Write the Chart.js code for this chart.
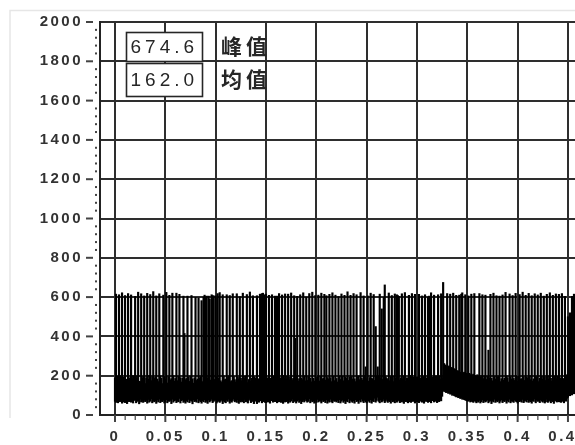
<!DOCTYPE html>
<html>
<head>
<meta charset="utf-8">
<script src="https://cdn.jsdelivr.net/npm/chart.js@4/dist/chart.umd.min.js"></script>
<style>
  html, body { margin: 0; padding: 0; background: #fff; }
  canvas { display: block; }
</style>
</head>
<body>
<canvas id="c" width="575" height="445"></canvas>
<script>
// Peak-detect trace: for every 1 ms sample, the highest and lowest reading
const sampleInterval = 0.001;

const peakTrace = [
  188,615,176,198,612,185,200,622,170,192,
  608,182,176,618,190,165,611,185,200,196,
  604,188,199,625,172,170,617,187,196,606,
  160,190,619,182,201,613,175,194,628,186,
  192,606,183,170,617,199,188,160,610,196,
  181,624,163,194,609,178,185,620,200,172,
  186,620,175,196,614,190,168,188,605,415,
  180,186,605,193,171,198,608,184,162,190,
  598,176,183,596,189,195,582,170,600,610,
  598,605,190,605,590,178,612,608,606,181,
  606,195,618,187,623,174,166,612,199,180,
  183,612,191,199,608,170,175,617,196,180,
  168,617,193,184,602,188,175,620,197,186,
  199,613,165,181,626,172,188,607,195,177,
  190,607,185,181,615,197,618,620,200,612,
  615,190,176,609,188,172,612,199,182,605,
  187,605,195,618,172,190,611,201,186,616,
  184,197,615,179,192,621,176,186,607,390,
  198,604,172,185,612,189,180,622,199,174,
  600,176,195,618,188,169,625,187,172,608,
  182,194,610,173,196,620,183,188,614,178,
  607,191,184,614,190,170,622,197,175,610,
  186,168,603,199,181,616,197,174,609,192,
  187,627,176,192,609,195,183,618,184,170,
  612,194,199,180,623,188,178,606,200,245,
  185,606,172,191,620,187,183,613,176,450,
  196,245,198,615,190,540,181,598,662,194,
  186,180,621,175,196,608,197,170,616,188,
  612,608,604,178,190,617,183,199,623,172,
  190,184,609,201,175,618,186,193,614,181,
  194,168,614,190,180,606,196,185,612,171,
  190,600,605,177,622,193,186,610,183,199,
  174,612,199,182,617,190,674.6,262,255,250,
  618,246,250,615,242,240,620,236,232,609,
  226,224,610,218,615,622,215,218,612,212,
  210,606,212,206,615,204,208,618,200,198,
  205,196,618,192,200,612,185,199,610,181,
  196,330,190,614,187,174,620,196,183,607,
  192,198,605,170,185,611,178,187,624,199,
  190,168,616,194,183,608,186,176,619,197,
  172,199,613,183,185,625,194,176,609,192,
  188,619,200,180,607,173,184,617,197,191,
  611,170,188,620,196,182,605,194,176,614,
  199,183,622,187,172,609,198,190,616,185,
  197,614,190,181,618,186,176,604,193,205,
  500,230,520,245,604,255,615,250
];

const floorTrace = [
  70,64,78,62,72,68,75,60,66,80,
  63,72,58,76,68,82,65,70,61,74,
  77,62,69,73,57,80,66,71,64,75,
  68,74,60,79,65,70,83,62,72,67,
  73,59,76,66,81,63,70,68,75,61,
  66,78,62,71,69,74,58,80,65,72,
  75,63,70,67,84,61,73,77,64,69,
  60,72,66,79,63,74,70,57,76,68,
  71,65,82,62,74,68,60,73,67,78,
  64,70,59,76,66,72,80,63,69,74,
  78,61,68,73,64,70,76,58,72,66,
  62,75,69,80,60,71,65,74,83,67,
  73,64,77,59,70,66,72,68,62,79,
  67,72,61,75,84,63,69,71,58,74,
  70,58,74,65,72,79,62,68,76,64,
  63,77,66,70,60,73,81,65,71,68,
  75,62,71,67,78,64,70,59,74,66,
  68,73,60,76,65,71,82,63,69,72,
  61,70,77,64,73,58,68,75,66,80,
  72,65,69,83,62,74,67,71,60,76,
  64,79,66,72,70,61,75,68,73,63,
  77,60,71,65,80,68,62,74,69,72,
  66,74,63,78,61,70,76,64,72,58,
  71,67,82,62,75,69,64,73,60,78,
  68,72,59,76,66,81,70,63,74,67,
  62,75,70,64,78,60,72,68,85,65,
  74,90,69,62,77,66,71,80,63,70,
  79,64,72,68,60,75,67,73,62,76,
  65,71,78,63,70,66,74,59,72,68,
  73,62,67,80,64,71,69,76,61,74,
  68,77,63,70,82,65,72,60,75,69,
  71,64,76,68,62,73,79,66,70,72,
  63,74,68,80,72,95,120,125,118,114,
  116,110,112,106,108,100,104,98,96,92,
  94,88,90,84,86,80,82,78,76,74,
  72,70,75,66,71,68,64,73,69,62,
  70,65,74,61,68,77,63,72,66,70,
  76,62,69,73,58,71,66,80,64,72,
  67,74,61,70,78,63,72,68,75,60,
  73,66,80,62,71,69,64,76,70,67,
  61,75,68,72,65,79,63,70,74,66,
  78,64,71,67,60,73,69,82,62,75,
  69,72,63,77,70,65,74,61,68,80,
  64,70,76,62,73,68,59,75,71,66,
  72,67,80,64,69,74,62,78,70,85,
  90,105,98,110,102,115,108,112
];

// Axis ticks
const xTickValues = [0, 0.05, 0.1, 0.15, 0.2, 0.25, 0.3, 0.35, 0.4, 0.45];
const xTickLabels = ['0', '0.05', '0.1', '0.15', '0.2', '0.25', '0.3', '0.35', '0.4', '0.45'];
const yTickValues = [0, 200, 400, 600, 800, 1000, 1200, 1400, 1600, 1800, 2000];
const xMinorStep = 0.01;
const yMinorStep = 40;

// Readout boxes
const statValues = ['674.6', '162.0'];
const statNames = ['峰值', '均值'];

const samples = peakTrace.map((hi, i) => ({ x: i * sampleInterval, y: [floorTrace[i], hi] }));

const ink = '#262626';

const decorations = {
  id: 'decorations',
  beforeDraw(chart) {
    const c = chart.ctx;
    c.save();
    // faint sheet edge
    c.strokeStyle = '#e6e6e6';
    c.lineWidth = 1.5;
    c.beginPath();
    c.moveTo(10, 418); c.lineTo(10, 10.5); c.lineTo(575, 10.5);
    c.stroke();
    c.restore();
    chart.ctx.letterSpacing = '2.5px';
  },
  afterDraw(chart) {
    const c = chart.ctx;
    const xs = chart.scales.x, ys = chart.scales.y;
    const area = chart.chartArea;
    c.save();
    c.letterSpacing = '0px';
    // y axis: dashes at major ticks, dots at minor ticks
    c.fillStyle = '#444';
    for (let v = 0; v <= 2000; v += yMinorStep) {
      const py = ys.getPixelForValue(v);
      if (v % 200 === 0) {
        c.fillRect(86, py - 1, 7, 2);
      } else {
        c.fillRect(95, py - 1, 2, 2);
      }
    }
    // x axis: small ticks under the axis
    for (let i = 0; i * xMinorStep <= 0.457 + 1e-9; i++) {
      const v = i * xMinorStep;
      const px = xs.getPixelForValue(v);
      if (i % 5 === 0) c.fillRect(px - 1, area.bottom, 2, 7);
      else c.fillRect(px - 0.5, area.bottom, 1.2, 5);
    }
    // readout boxes
    const boxes = [[126.5, 32.5, 76, 29], [126.5, 63.5, 76, 33]];
    boxes.forEach((b, i) => {
      c.fillStyle = '#fff';
      c.fillRect(b[0], b[1], b[2], b[3]);
      c.strokeStyle = ink;
      c.lineWidth = 1.6;
      c.strokeRect(b[0], b[1], b[2], b[3]);
      c.fillStyle = ink;
      c.textBaseline = 'middle';
      c.textAlign = 'left';
      c.letterSpacing = '4px';
      c.font = '19px "Liberation Sans", Arial, sans-serif';
      c.fillText(statValues[i], b[0] + 4, b[1] + b[3] / 2 + 1);
      c.letterSpacing = '4px';
      c.font = 'bold 21px "Noto Sans CJK SC", sans-serif';
      c.fillText(statNames[i], 221, b[1] + b[3] / 2 - 1);
    });
    c.restore();
  }
};

new Chart(document.getElementById('c'), {
  type: 'bar',
  data: {
    datasets: [{
      data: samples,
      backgroundColor: '#000',
      borderWidth: 0,
      barThickness: 1.5,
      grouped: false
    }]
  },
  options: {
    responsive: false,
    animation: false,
    devicePixelRatio: 1,
    layout: { padding: { top: 22, right: 0, bottom: 0, left: 0 } },
    plugins: { legend: { display: false }, tooltip: { enabled: false } },
    scales: {
      x: {
        type: 'linear',
        offset: false,
        min: -0.0149,
        max: 0.457,
        afterBuildTicks: s => { s.ticks = xTickValues.map(v => ({ value: v })); },
        afterFit: s => { s.height = 30; s.paddingLeft = 0; s.paddingRight = 0; },
        grid: { color: '#2e2e2e', lineWidth: 2, drawTicks: false, offset: false },
        border: { color: '#222', width: 2 },
        ticks: {
          autoSkip: false,
          maxRotation: 0,
          padding: 13,
          color: '#333',
          font: { family: '"Liberation Sans", Arial, sans-serif', size: 15, weight: 'bold' },
          callback: (v, i) => xTickLabels[i]
        }
      },
      y: {
        min: 0,
        max: 2000,
        afterBuildTicks: s => { s.ticks = yTickValues.map(v => ({ value: v })); },
        afterFit: s => { s.width = 100; s.paddingTop = 0; s.paddingBottom = 0; },
        grid: { color: '#2e2e2e', lineWidth: 2, drawTicks: false },
        border: { color: '#222', width: 2 },
        ticks: {
          autoSkip: false,
          padding: 17,
          color: '#333',
          font: { family: '"Liberation Sans", Arial, sans-serif', size: 15, weight: 'bold' },
          callback: v => String(v)
        }
      }
    }
  },
  plugins: [decorations]
});
</script>
</body>
</html>
